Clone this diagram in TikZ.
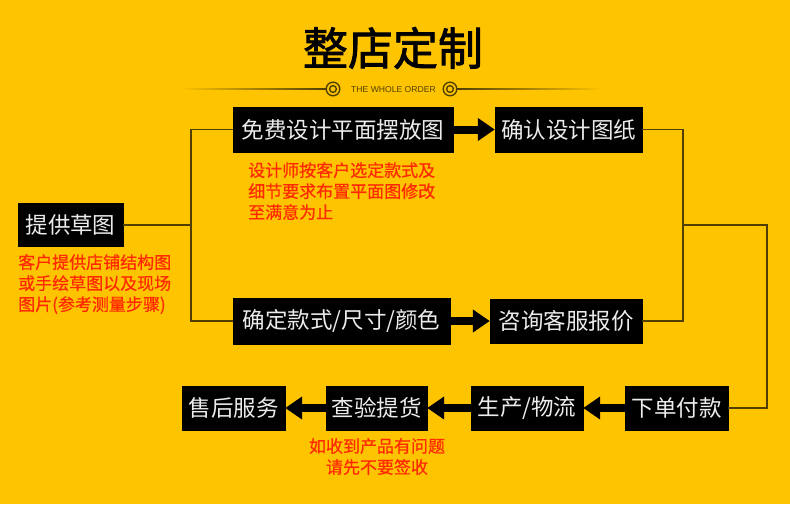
\documentclass[tikz,border=0pt]{standalone}
\usepackage{fontspec}
\setmainfont{Noto Sans CJK SC}
\newfontfamily\titlefont[FakeBold=1.8]{Noto Sans CJK SC}
\newfontfamily\notefont[FakeBold=0.6]{Noto Sans CJK SC}
\newfontfamily\latinfont{Liberation Sans}
\usetikzlibrary{arrows.meta}
\definecolor{bgc}{RGB}{255,196,0}
\definecolor{redtxt}{RGB}{255,42,0}
\definecolor{linec}{RGB}{80,64,0}
\definecolor{boxtxt}{RGB}{236,236,236}
\tikzset{
  box/.style={draw=black, fill=black, text=boxtxt, inner sep=0pt, minimum height=44pt,
    font=\fontsize{22.5}{24}\selectfont},
  note/.style={text=redtxt, inner sep=0pt, font=\notefont\fontsize{17}{21}\selectfont},
  conn/.style={draw=linec, line width=1.2pt},
  bigarrow/.style={draw=black, line width=8pt, -{Triangle[width=22pt,length=17pt]}, shorten >=0pt},
}
\begin{document}
\begin{tikzpicture}[x=1pt,y=-1pt]
\fill[bgc] (0,0) rectangle (790,504);
\useasboundingbox (0,0) rectangle (790,504);

% title
\node[inner sep=0pt, font=\titlefont\fontsize{45}{48}\selectfont] (title) at (393,48) {整店定制};
\shade[left color=bgc, right color=linec] (180,88.4) rectangle (326,89.8);
\shade[left color=linec, right color=bgc] (457,88.4) rectangle (602,89.8);
\draw[linec, line width=1.4pt] (333,89) circle (6.8) (333,89) circle (3.4);
\draw[linec, line width=1.4pt] (450,89) circle (6.8) (450,89) circle (3.4);
\node[inner sep=0pt, text=linec, font=\latinfont\fontsize{8.6}{9}\selectfont] (sub) at (393.5,89.5) {THE WHOLE ORDER};

% boxes
\node[box, minimum width=105pt, minimum height=43pt] (b1) at (70.5,225) {提供草图};
\node[box, minimum width=220pt, minimum height=45pt] (b2) at (343,129.5) {免费设计平面摆放图};
\node[box, minimum width=147pt, minimum height=45pt] (b3) at (568.5,129.5) {确认设计图纸};
\node[box, minimum width=217pt, minimum height=46pt] (b4) at (341.5,321) {确定款式/尺寸/颜色};
\node[box, minimum width=152pt] (b5) at (566,321) {咨询客服报价};
\node[box, minimum width=103pt] (b6) at (676.5,408) {下单付款};
\node[box, minimum width=112pt] (b7) at (527,408) {生产/物流};
\node[box, minimum width=101pt] (b8) at (376.5,408) {查验提货};
\node[box, minimum width=103pt] (b9) at (233.5,408) {售后服务};

% notes
\node[note, anchor=north west, align=left] (n1) at (18,254) {客户提供店铺结构图\\或手绘草图以及现场\\图片(参考测量步骤)};
\node[note, anchor=north west, align=left] (n2) at (248,162) {设计师按客户选定款式及\\细节要求布置平面图修改\\至满意为止};
\node[note, anchor=north, align=center] (n3) at (377,438) {如收到产品有问题\\请先不要签收};

% connectors
\coordinate (jl) at (191,225);
\coordinate (jr) at (683,225);
\coordinate (jr2) at (767,225);
\draw[conn] (b1.east) -- (jl);
\draw[conn] (b2.west) -| (jl) |- (b4.west);
\draw[conn] (b3.east) -| (jr) |- (b5.east);
\draw[conn] (jr) -- (jr2) |- (b6.east);

% thick arrows
\draw[bigarrow] (b2.east) -- (b3.west);
\draw[bigarrow] (b4.east) -- (b5.west);
\draw[bigarrow] (b6.west) -- (b7.east);
\draw[bigarrow] (b7.west) -- (b8.east);
\draw[bigarrow] (b8.west) -- (b9.east);
\end{tikzpicture}
\end{document}
